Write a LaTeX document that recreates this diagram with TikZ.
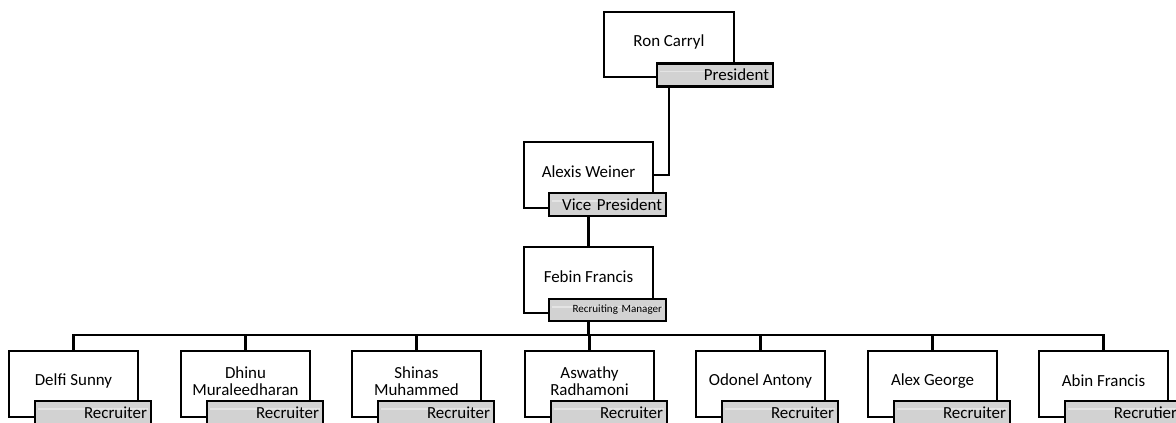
\documentclass[tikz,border=0pt]{standalone}
\usepackage{fontspec}
\setmainfont{Carlito}
\definecolor{lblgray}{RGB}{210,210,210}
\definecolor{lblline}{RGB}{228,228,228}
\begin{document}
\begin{tikzpicture}[x=0.75pt,y=-0.75pt,
  line width=1.6pt,
  pbox/.style={draw=black,fill=white,minimum width=129*0.75pt,minimum height=66*0.75pt,inner sep=0pt},
  ptext/.style={font=\fontsize{12.7}{13}\selectfont,align=center,inner sep=0pt},
  plabel/.style={draw=black,fill=lblgray,font=\fontsize{12.7}{13}\selectfont,align=right,
    text width=108*0.75pt,inner xsep=4*0.75pt,inner ysep=0pt,minimum height=23*0.75pt,
    path picture={\draw[lblline,line width=0.8pt]
      ([xshift=2pt,yshift=-6pt]path picture bounding box.north west) --
      ([xshift=-2pt,yshift=-6pt]path picture bounding box.north east);}},
  conn/.style={draw=black,line width=1.6pt}]
\useasboundingbox (0,0) rectangle (1176,423);
\clip (0,0) rectangle (1176,423);

% President
\node[pbox,minimum width=130*0.75pt,minimum height=65*0.75pt] (ron) at (669,44.5) {};
\node[ptext] (ront) at (669,42) {Ron Carryl};
\node[plabel] (ronL) at (715,75) {President};
% Vice President
\node[pbox] (alexis) at (588.5,175) {};
\node[ptext] (alexist) at (588.5,172) {Alexis Weiner};
\node[plabel,text width=109*0.75pt] (alexisL) at (607.5,204.5) {Vice President};
% Manager
\node[pbox] (febin) at (588.5,280) {};
\node[ptext] (febint) at (588.5,277) {Febin Francis};
\node[plabel,text width=109*0.75pt,minimum height=22*0.75pt,font=\fontsize{8.3}{9}\selectfont] (febinL) at (607.5,310) {Recruiting Manager};

% children
\foreach \i/\l/\nm/\role in {1/9/{Delfi Sunny}/Recruiter,
  2/181/{Dhinu\\Muraleedharan}/Recruiter,
  3/352/{Shinas\\Muhammed}/Recruiter,
  4/525/{Aswathy\\Radhamoni}/Recruiter,
  5/696/{Odonel Antony}/Recruiter,
  6/868/{Alex George}/Recruiter,
  7/1039/{Abin Francis}/Recrutier}{
  \node[pbox] (c\i) at ({\l+64.5},384) {};
  \node[ptext] (c\i t) at ({\l+64.5},381) {\nm};
  \node[plabel] (c\i L) at ({\l+84},412.5) {\role};
}

% connectors
\draw[conn] (ron.center |- ronL.south) |- (alexis.east);
\draw[conn] (alexis.center |- alexisL.south) -- (febin.north);
\coordinate (busy) at (0,335);
\draw[conn] (febin.center |- febinL.south) -- (febin.center |- busy);
\draw[conn] (c1.north) -- (c1.north |- busy) -- (c7.north |- busy) -- (c7.north);
\foreach \i in {2,...,6}{
  \draw[conn] (c\i.north) -- (c\i.north |- busy);
}
\end{tikzpicture}
\end{document}
